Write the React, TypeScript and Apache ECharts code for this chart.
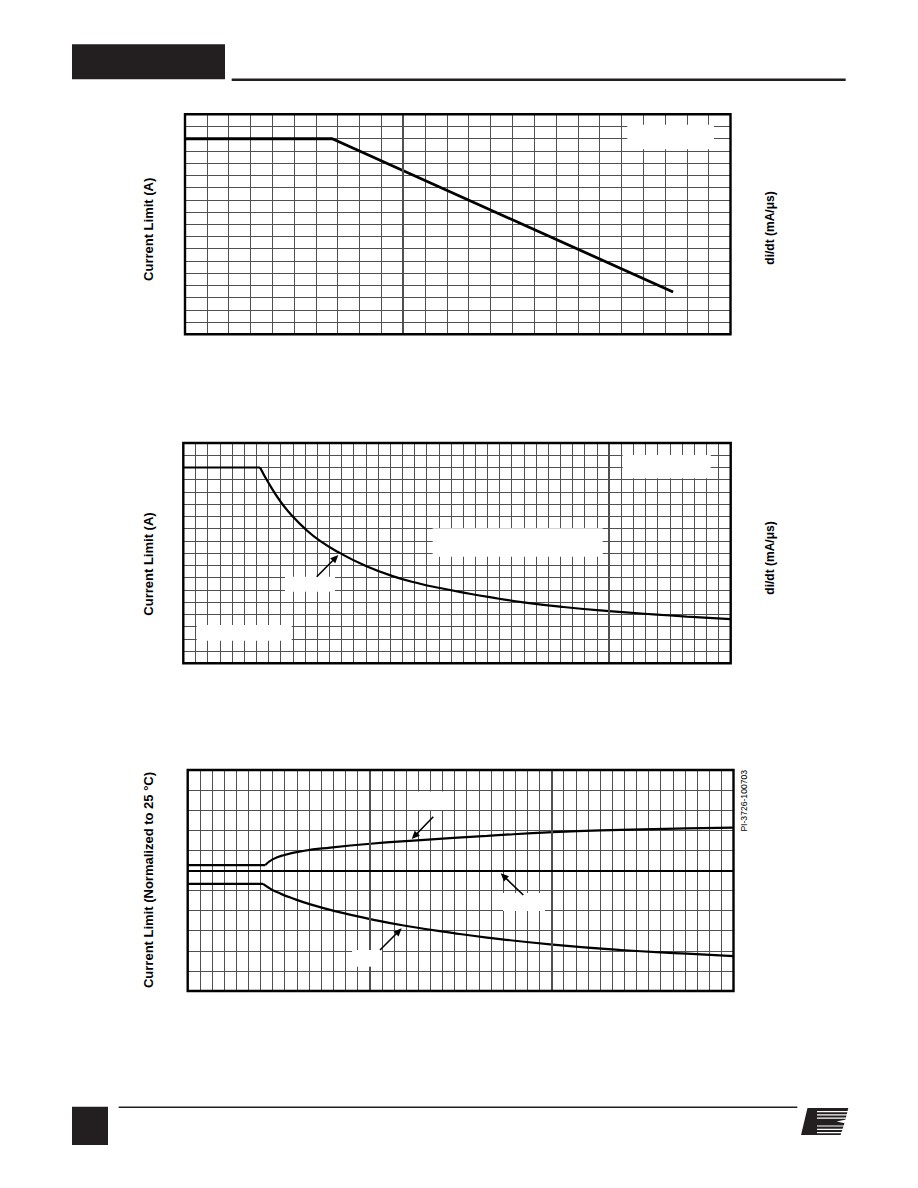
import React, { useEffect, useRef } from 'react';
import * as echarts from 'echarts';

// ---- Data (grid units) ----
// Chart 1: Current Limit vs di/dt (linear)
const chart1X = [0, 6.75, 22.37];
const chart1Y = [16, 16, 3.46];

// Chart 2: Current Limit vs di/dt (curve); first two points are the flat plateau
const chart2X = [0, 6.31, 7.0, 8.0, 9.0, 10.0, 11.24, 12.89, 14.8, 17.27, 19.47, 21.1, 23.03, 25.2, 27.96, 31.25, 35.0, 38.65, 41.4, 45];
const chart2Y = [16, 16, 14.75, 13.2, 12.0, 11.0, 10.0, 9.0, 8.05, 7.1, 6.5, 6.15, 5.78, 5.4, 4.98, 4.6, 4.27, 4.0, 3.82, 3.61];

// Chart 3: Current Limit normalized to 25 °C; first two points are the flat plateau
const chart3UpperX = [0, 6.4, 7.0, 7.9, 9.5, 11.76, 15.06, 18.9, 21.93, 24.68, 30.09, 35.67, 41.17, 45];
const chart3UpperY = [1.0054, 1.0054, 1.011, 1.0152, 1.0194, 1.0228, 1.0266, 1.03, 1.0324, 1.0344, 1.0382, 1.0404, 1.0418, 1.0426];
const chart3LowerX = [0, 6.21, 6.9, 7.6, 8.47, 10.12, 12.32, 15.06, 17.81, 21.93, 24.68, 30.09, 35.67, 41.17, 45];
const chart3LowerY = [0.9866, 0.9866, 0.9812, 0.9772, 0.973, 0.9662, 0.959, 0.9516, 0.9452, 0.9376, 0.9332, 0.9262, 0.9208, 0.9172, 0.9148];

// Axis ranges
const chart1XRange = [0, 25];
const chart1YRange = [0, 18];
const chart1Major = [10];
const chart2XRange = [0, 45];
const chart2YRange = [0, 18];
const chart2Major = [35];
const chart3XRange = [0, 45];
const chart3YRange = [0.88, 1.1];
const chart3MajorX = [15, 30];
const chart3MajorY = [1.0];

const yLabel1 = 'Current Limit (A)';
const yLabel3 = 'Current Limit (Normalized to 25 °C)';
const xLabel = 'di/dt (mA/μs)';
const docId = 'PI-3726-100703';

// ---- Layout ----
const G1 = { left: 185, top: 114.3, width: 545.5, height: 220 };
const G2 = { left: 183.3, top: 443, width: 547.4, height: 220.3 };
const G3 = { left: 187.7, top: 770, width: 545.8, height: 221 };

const GRID_COLOR = '#505050';
const DARK = '#231f20';
const FONT = '"Liberation Sans", Arial, Helvetica, sans-serif';

const zip = (xs: number[], ys: number[]) => xs.map((x, i) => [x, ys[i]]);

function axisPair(idx: number, xr: number[], yr: number[], xi: number, yi: number) {
  const common = {
    type: 'value',
    gridIndex: idx,
    axisLine: { show: false },
    axisTick: { show: false },
    axisLabel: { show: false },
    splitLine: { show: true, lineStyle: { color: GRID_COLOR, width: 1 } },
  };
  return {
    x: { ...common, min: xr[0], max: xr[1], interval: xi },
    y: { ...common, min: yr[0], max: yr[1], interval: yi },
  };
}

function arrowEls(x1: number, y1: number, x2: number, y2: number) {
  const dx = x2 - x1, dy = y2 - y1;
  const L = Math.hypot(dx, dy);
  const ux = dx / L, uy = dy / L;
  const hl = 8, hw = 3.6;
  const bx = x2 - ux * hl, by = y2 - uy * hl;
  return [
    { type: 'line', z: 60, shape: { x1, y1, x2: bx + ux * 1, y2: by + uy * 1 }, style: { stroke: '#000', lineWidth: 1.6 } },
    {
      type: 'polygon', z: 60,
      shape: { points: [[x2, y2], [bx - uy * hw, by + ux * hw], [bx + uy * hw, by - ux * hw]] },
      style: { fill: '#000' },
    },
  ];
}

function whiteBox(x1: number, y1: number, x2: number, y2: number) {
  return { type: 'rect', z: 50, shape: { x: x1, y: y1, width: x2 - x1, height: y2 - y1 }, style: { fill: '#fff' } };
}

function frame(g: { left: number; top: number; width: number; height: number }) {
  return {
    type: 'rect', z: 100,
    shape: { x: g.left, y: g.top, width: g.width, height: g.height },
    style: { fill: 'none', stroke: '#000', lineWidth: 2.4 },
  };
}

function vText(text: string, x: number, y: number, size: number, bold: boolean) {
  return {
    type: 'text', z: 100, x, y, rotation: Math.PI / 2,
    style: {
      text, fill: '#000',
      font: `${bold ? 'bold ' : ''}${size}px ${FONT}`,
      align: 'center', verticalAlign: 'middle',
      textAlign: 'center', textVerticalAlign: 'middle',
    },
  };
}

function markLines(lines: any[], color: string, width: number) {
  return {
    silent: true,
    symbol: ['none', 'none'],
    label: { show: false },
    lineStyle: { color, width, type: 'solid' },
    emphasis: { disabled: true },
    data: lines,
  };
}

// plateau (straight) + curve (smooth) split so the knee stays sharp
function curveSeries(idx: number, xs: number[], ys: number[], width: number, ml?: any) {
  const pts = zip(xs, ys);
  const flat: any = {
    type: 'line', xAxisIndex: idx, yAxisIndex: idx,
    data: pts.slice(0, 2), symbol: 'none',
    lineStyle: { color: '#000', width },
  };
  if (ml) flat.markLine = ml;
  const curve = {
    type: 'line', xAxisIndex: idx, yAxisIndex: idx,
    data: pts.slice(1), symbol: 'none', smooth: 0.5,
    lineStyle: { color: '#000', width },
  };
  return [flat, curve];
}

export default function App() {
  const ref = useRef<HTMLDivElement>(null);

  useEffect(() => {
    if (!ref.current) return;
    const chart = echarts.init(ref.current, null, { renderer: 'svg' });

    const a1 = axisPair(0, chart1XRange, chart1YRange, 1, 1);
    const a2 = axisPair(1, chart2XRange, chart2YRange, 1, 1);
    const a3 = axisPair(2, chart3XRange, chart3YRange, 1, 0.02);

    const graphic: any[] = [
      // header
      { type: 'rect', z: 10, shape: { x: 72, y: 44.3, width: 153, height: 35 }, style: { fill: DARK } },
      { type: 'rect', z: 10, shape: { x: 231.7, y: 78.5, width: 614, height: 2.5 }, style: { fill: DARK } },
      // footer
      { type: 'rect', z: 10, shape: { x: 72, y: 1106.7, width: 36, height: 38.3 }, style: { fill: DARK } },
      { type: 'rect', z: 10, shape: { x: 118.7, y: 1106.5, width: 678.6, height: 1.4 }, style: { fill: DARK } },
      // logo
      { type: 'polygon', z: 10, shape: { points: [[801, 1135], [807.5, 1108], [848.3, 1108], [845, 1121.5], [840.6, 1135]] }, style: { fill: DARK } },
      ...[1111, 1114.3, 1117.6, 1125.4, 1128.7, 1132].map((y) => ({
        type: 'rect', z: 11, shape: { x: 817, y, width: 34, height: 1.2 }, style: { fill: '#fff' },
      })),
      { type: 'polygon', z: 11, shape: { points: [[851, 1118.5], [836.5, 1121.5], [851, 1124.5]] }, style: { fill: '#fff' } },

      // chart 1 boxes
      whiteBox(627.3, 124.7, 714, 149.3),
      // chart 2 boxes
      whiteBox(622.7, 455, 710.7, 478.3),
      whiteBox(432.7, 528.3, 602.7, 556.7),
      whiteBox(285, 576.7, 335, 591.7),
      whiteBox(196.7, 625, 291.7, 640.7),
      // chart 3 boxes
      whiteBox(415, 791.5, 447, 810),
      whiteBox(503, 893, 545, 911),
      whiteBox(352, 950, 382, 966.7),

      // arrows
      ...arrowEls(316.7, 576.7, 338.3, 555),
      ...arrowEls(433.3, 816.7, 411.7, 839),
      ...arrowEls(523.3, 895, 500.7, 873.3),
      ...arrowEls(380, 950, 401.7, 928.3),

      // frames
      frame(G1), frame(G2), frame(G3),

      // texts
      vText(yLabel1, 148.5, 229.3, 13, true),
      vText(yLabel1, 148.5, 564, 13, true),
      vText(yLabel3, 148.5, 880, 13, true),
      vText(xLabel, 770, 228, 12, true),
      vText(xLabel, 770, 558, 12, true),
      vText(docId, 744, 800.8, 8.6, false),
    ];

    const option: any = {
      animation: false,
      backgroundColor: '#fff',
      grid: [
        { ...G1, containLabel: false },
        { ...G2, containLabel: false },
        { ...G3, containLabel: false },
      ],
      xAxis: [a1.x, a2.x, a3.x],
      yAxis: [a1.y, a2.y, a3.y],
      series: [
        {
          type: 'line', xAxisIndex: 0, yAxisIndex: 0,
          data: zip(chart1X, chart1Y), symbol: 'none',
          lineStyle: { color: '#000', width: 2.8 },
          markLine: markLines(chart1Major.map((v) => ({ xAxis: v })), GRID_COLOR, 2),
        },
        ...curveSeries(1, chart2X, chart2Y, 2.2, markLines(chart2Major.map((v) => ({ xAxis: v })), GRID_COLOR, 2)),
        ...curveSeries(2, chart3UpperX, chart3UpperY, 2.2, markLines(chart3MajorX.map((v) => ({ xAxis: v })), GRID_COLOR, 2)),
        ...curveSeries(2, chart3LowerX, chart3LowerY, 2.2, markLines(chart3MajorY.map((v) => ({ yAxis: v })), '#000', 2.2)),
      ],
      graphic,
    };

    chart.setOption(option);
    return () => chart.dispose();
  }, []);

  return (
    <div
      ref={ref}
      style={{ position: 'absolute', left: 0, top: 0, width: 918, height: 1188, background: '#fff' }}
    />
  );
}
